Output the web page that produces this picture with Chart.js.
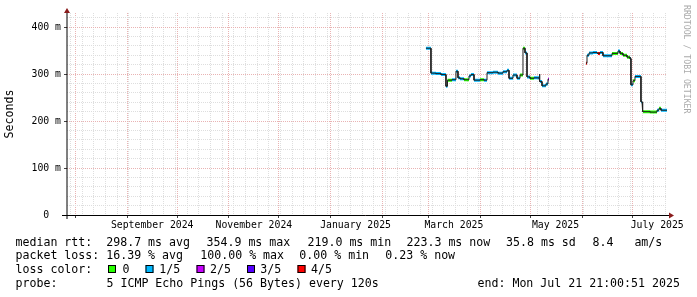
<!DOCTYPE html>
<html>
<head>
<meta charset="utf-8">
<script src="https://cdn.jsdelivr.net/npm/chart.js@4.4.1/dist/chart.umd.min.js"></script>
<style>
  html, body { margin: 0; padding: 0; background: #fff; }
  canvas { display: block; }
</style>
</head>
<body>
<canvas id="chart" width="697" height="297"></canvas>
<script>
// last 360 days, ending Mon Jul 21 21:00:51 2025
const rangeStart = "2024-07-26T21:00";
const rangeEnd = "2025-07-21T21:00";

// median rtt in ms, each value holds until the next sample (null = no data)
const sampleTimes = [
  "2025-02-27T06:00", "2025-03-02T06:00", "2025-03-05T06:00", "2025-03-08T06:00", "2025-03-11T06:00",
  "2025-03-12T04:00", "2025-03-14T21:00", "2025-03-17T06:00", "2025-03-18T11:00", "2025-03-19T16:00",
  "2025-03-22T02:00", "2025-03-25T02:00", "2025-03-26T06:00", "2025-03-28T02:00", "2025-03-31T16:00",
  "2025-04-03T02:00", "2025-04-04T21:00", "2025-04-08T11:00", "2025-04-11T11:00", "2025-04-14T11:00",
  "2025-04-16T21:00", "2025-04-18T02:00", "2025-04-20T11:00", "2025-04-22T21:00", "2025-04-24T16:00",
  "2025-04-26T11:00", "2025-04-27T16:00", "2025-04-28T21:00", "2025-04-30T16:00", "2025-05-03T02:00",
  "2025-05-06T02:00", "2025-05-06T16:00", "2025-05-07T21:00", "2025-05-10T06:00", "2025-05-11T11:00",
  "2025-05-12T02:00",
  "2025-06-03T06:00", "2025-06-03T21:00", "2025-06-05T02:00", "2025-06-07T11:00", "2025-06-09T21:00",
  "2025-06-10T11:00", "2025-06-11T16:00", "2025-06-13T11:00", "2025-06-18T21:00", "2025-06-22T11:00",
  "2025-06-23T16:00", "2025-06-25T11:00", "2025-06-27T21:00", "2025-06-29T16:00", "2025-06-30T06:00",
  "2025-07-01T11:00", "2025-07-02T16:00", "2025-07-06T06:00", "2025-07-06T21:00", "2025-07-07T11:00",
  "2025-07-11T16:00", "2025-07-15T21:00", "2025-07-17T02:00", "2025-07-18T06:00", "2025-07-21T21:00"
];
const medianRtt = [
  355, 302, 301, 299, 274, 287, 288, 306, 292, 290,
  288, 296, 299, 287, 288, 287, 303, 304, 302, 305,
  308, 291, 298, 291, 298, 355, 345, 294, 291, 292,
  300, 284, 275, 279, 289, null,
  323, 340, 345, 346, 343, 344, 346, 339, 344, 349,
  344, 340, 336, 333, 277, 286, 295, 241, 224, 220,
  219, 223, 227, 223, null
];
// lost pings out of 5 for each sample
const lossLevel = [
  1, 1, 1, 1, 1, 0, 1, 1, 1, 1,
  0, 1, 1, 1, 0, 1, 1, 1, 1, 1,
  1, 1, 1, 1, 0, 0, 1, 1, 0, 1,
  1, 1, 1, 1, 2, 0,
  4, 1, 1, 1, 0, 4, 1, 1, 0, 1,
  0, 0, 0, 1, 1, 0, 1, 1, 0, 0,
  0, 1, 0, 1, 0
];

const lossLabels = ["0", "1/5", "2/5", "3/5", "4/5"];
const lossColors = ["#26ff00", "#00b8ff", "#c800ff", "#5500ff", "#ff0000"];

const yTicks = [0, 20, 40, 60, 80, 100, 120, 140, 160, 180, 200, 220, 240, 260, 280, 300, 320, 340, 360, 380, 400, 420];
const monthStarts = ["2024-08", "2024-09", "2024-10", "2024-11", "2024-12", "2025-01",
                     "2025-02", "2025-03", "2025-04", "2025-05", "2025-06", "2025-07"];
const labelMonths = ["2024-09", "2024-11", "2025-01", "2025-03", "2025-05", "2025-07"];
const labelTexts = ["September 2024", "November 2024", "January 2025", "March 2025", "May 2025", "July 2025"];
const firstMonday = "2024-07-29";

const rttStats = ["median rtt:  298.7 ms avg", "354.9 ms max", "219.0 ms min", "223.3 ms now", "35.8 ms sd", "8.4   am/s"];
const lossStats = ["packet loss: 16.39 % avg", "100.00 % max", "0.00 % min", "0.23 % now"];
const probeText = "5 ICMP Echo Pings (56 Bytes) every 120s";
const endText = "end: Mon Jul 21 21:00:51 2025";

const DAY = 86400000;
const toMs = s => new Date(s + ":00Z").getTime();
const xMin = toMs(rangeStart);
const xMax = toMs(rangeEnd);
const mono = "DejaVu Sans Mono";
const minorGrid = "#dedede";
const majorGrid = "#e9b3b3";

function buildXTicks() {
  const ticks = [];
  for (let t = toMs(firstMonday + "T00:00"); t < xMax; t += 7 * DAY) ticks.push({ value: t, kind: "minor" });
  monthStarts.forEach(m => ticks.push({ value: toMs(m + "-01T00:00"), kind: "major" }));
  labelMonths.forEach((m, i) => ticks.push({ value: toMs(m + "-01T00:00") + 15 * DAY, kind: "label", text: labelTexts[i] }));
  return ticks.sort((a, b) => a.value - b.value);
}

// step points; with a loss level only the horizontal pieces of that colour
function stepPoints(level) {
  const pts = [];
  for (let i = 0; i < sampleTimes.length - 1; i++) {
    const v = medianRtt[i];
    if (v === null) continue;
    if (level !== undefined && lossLevel[i] !== level) continue;
    const t0 = toMs(sampleTimes[i]);
    const t1 = toMs(sampleTimes[i + 1]);
    pts.push({ x: t0, y: v }, { x: t1, y: v });
    if (level !== undefined || medianRtt[i + 1] === null) pts.push({ x: t1, y: null });
  }
  return pts;
}

const datasets = [{
  data: stepPoints(),
  borderColor: "#202020",
  borderWidth: 1,
  pointRadius: 0,
  spanGaps: false
}];
lossColors.forEach((c, lvl) => {
  datasets.push({
    data: stepPoints(lvl),
    borderColor: c,
    borderWidth: 3,
    borderCapStyle: "butt",
    pointRadius: 0,
    spanGaps: false
  });
});

const rrdDecor = {
  id: "rrdDecor",
  beforeDraw(chart) {
    const ctx = chart.ctx;
    ctx.save();
    ctx.fillStyle = "#fff";
    ctx.fillRect(0, 0, chart.width, chart.height);
    ctx.restore();
  },
  afterDraw(chart) {
    const ctx = chart.ctx;
    const a = chart.chartArea;
    ctx.save();

    // axes
    ctx.strokeStyle = "#000";
    ctx.lineWidth = 1;
    ctx.beginPath();
    ctx.moveTo(62, a.bottom + 0.5);
    ctx.lineTo(a.right + 2, a.bottom + 0.5);
    ctx.moveTo(a.left, a.bottom + 4);
    ctx.lineTo(a.left, a.top);
    ctx.stroke();

    ctx.fillStyle = "#8a1c1c";
    ctx.beginPath();
    ctx.moveTo(a.right + 2, a.bottom - 2.5);
    ctx.lineTo(a.right + 7, a.bottom + 0.5);
    ctx.lineTo(a.right + 2, a.bottom + 3.5);
    ctx.closePath();
    ctx.fill();
    ctx.beginPath();
    ctx.moveTo(a.left - 3, a.top);
    ctx.lineTo(a.left, a.top - 5);
    ctx.lineTo(a.left + 3, a.top);
    ctx.closePath();
    ctx.fill();

    // legend
    ctx.fillStyle = "#000";
    ctx.font = "11.6px '" + mono + "'";
    ctx.textBaseline = "alphabetic";
    ctx.textAlign = "left";
    const rttX = [15.5, 206.5, 307.5, 406.5, 506, 592.5];
    rttStats.forEach((s, i) => ctx.fillText(s, rttX[i], 245.5));
    const lossX = [15.5, 200.3, 299.3, 385.3];
    lossStats.forEach((s, i) => ctx.fillText(s, lossX[i], 259));
    ctx.fillText("loss color:", 15.5, 273);
    const boxX = [108, 145.5, 196.5, 247, 297.5];
    const boxLabelX = [122.5, 159.3, 210, 260.3, 311];
    lossLabels.forEach((l, i) => {
      ctx.fillStyle = lossColors[i];
      ctx.fillRect(boxX[i], 265, 8, 8);
      ctx.strokeStyle = "#000";
      ctx.strokeRect(boxX[i] + 0.5, 265.5, 7, 7);
      ctx.fillStyle = "#000";
      ctx.fillText(l, boxLabelX[i], 273);
    });
    ctx.fillText("probe:", 15.5, 286.5);
    ctx.fillText(probeText, 106.5, 286.5);
    ctx.fillText(endText, 477.5, 286.5);

    // watermark
    ctx.fillStyle = "#aaaaaa";
    ctx.font = "8.2px '" + mono + "'";
    ctx.textBaseline = "middle";
    ctx.translate(686, 5);
    ctx.rotate(Math.PI / 2);
    ctx.fillText("RRDTOOL / TOBI OETIKER", 0, 0);
    ctx.restore();
  }
};

new Chart(document.getElementById("chart"), {
  type: "line",
  data: { datasets: datasets },
  options: {
    responsive: false,
    maintainAspectRatio: false,
    devicePixelRatio: 1,
    animation: false,
    layout: { padding: { left: 0, right: 30, top: 13, bottom: 0 } },
    plugins: { legend: { display: false }, tooltip: { enabled: false } },
    scales: {
      x: {
        type: "linear",
        min: xMin,
        max: xMax,
        afterBuildTicks: s => { s.ticks = buildXTicks(); },
        afterFit: s => { s.height = 82; },
        border: { display: false, dash: [1, 1] },
        grid: {
          color: c => c.tick && c.tick.kind === "major" ? majorGrid : (c.tick && c.tick.kind === "minor" ? minorGrid : "rgba(0,0,0,0)"),
          tickColor: c => c.tick && c.tick.kind === "major" ? "#444" : "rgba(0,0,0,0)",
          tickLength: 3
        },
        ticks: {
          autoSkip: false,
          maxRotation: 0,
          padding: 2,
          color: "#000",
          font: { family: mono, size: 9.8 },
          callback: (v, i, ticks) => ticks[i].text || ""
        }
      },
      y: {
        min: 0,
        max: 430,
        afterBuildTicks: s => { s.ticks = yTicks.map(v => ({ value: v })); },
        afterFit: s => { s.width = 67; },
        border: { display: false, dash: [1, 1] },
        grid: {
          color: c => c.tick && c.tick.value % 100 === 0 ? majorGrid : minorGrid,
          tickColor: c => c.tick && c.tick.value % 100 === 0 ? "#444" : "rgba(0,0,0,0)",
          tickLength: 3
        },
        ticks: {
          autoSkip: false,
          padding: 3,
          color: "#000",
          font: { family: mono, size: 9.8 },
          callback: v => v === 0 ? "0  " : (v % 100 === 0 ? v + " m" : "")
        },
        title: {
          display: true,
          text: "Seconds",
          color: "#000",
          font: { family: mono, size: 11.6 },
          padding: { top: 3.5, bottom: 0 }
        }
      }
    }
  },
  plugins: [rrdDecor]
});
</script>
</body>
</html>
